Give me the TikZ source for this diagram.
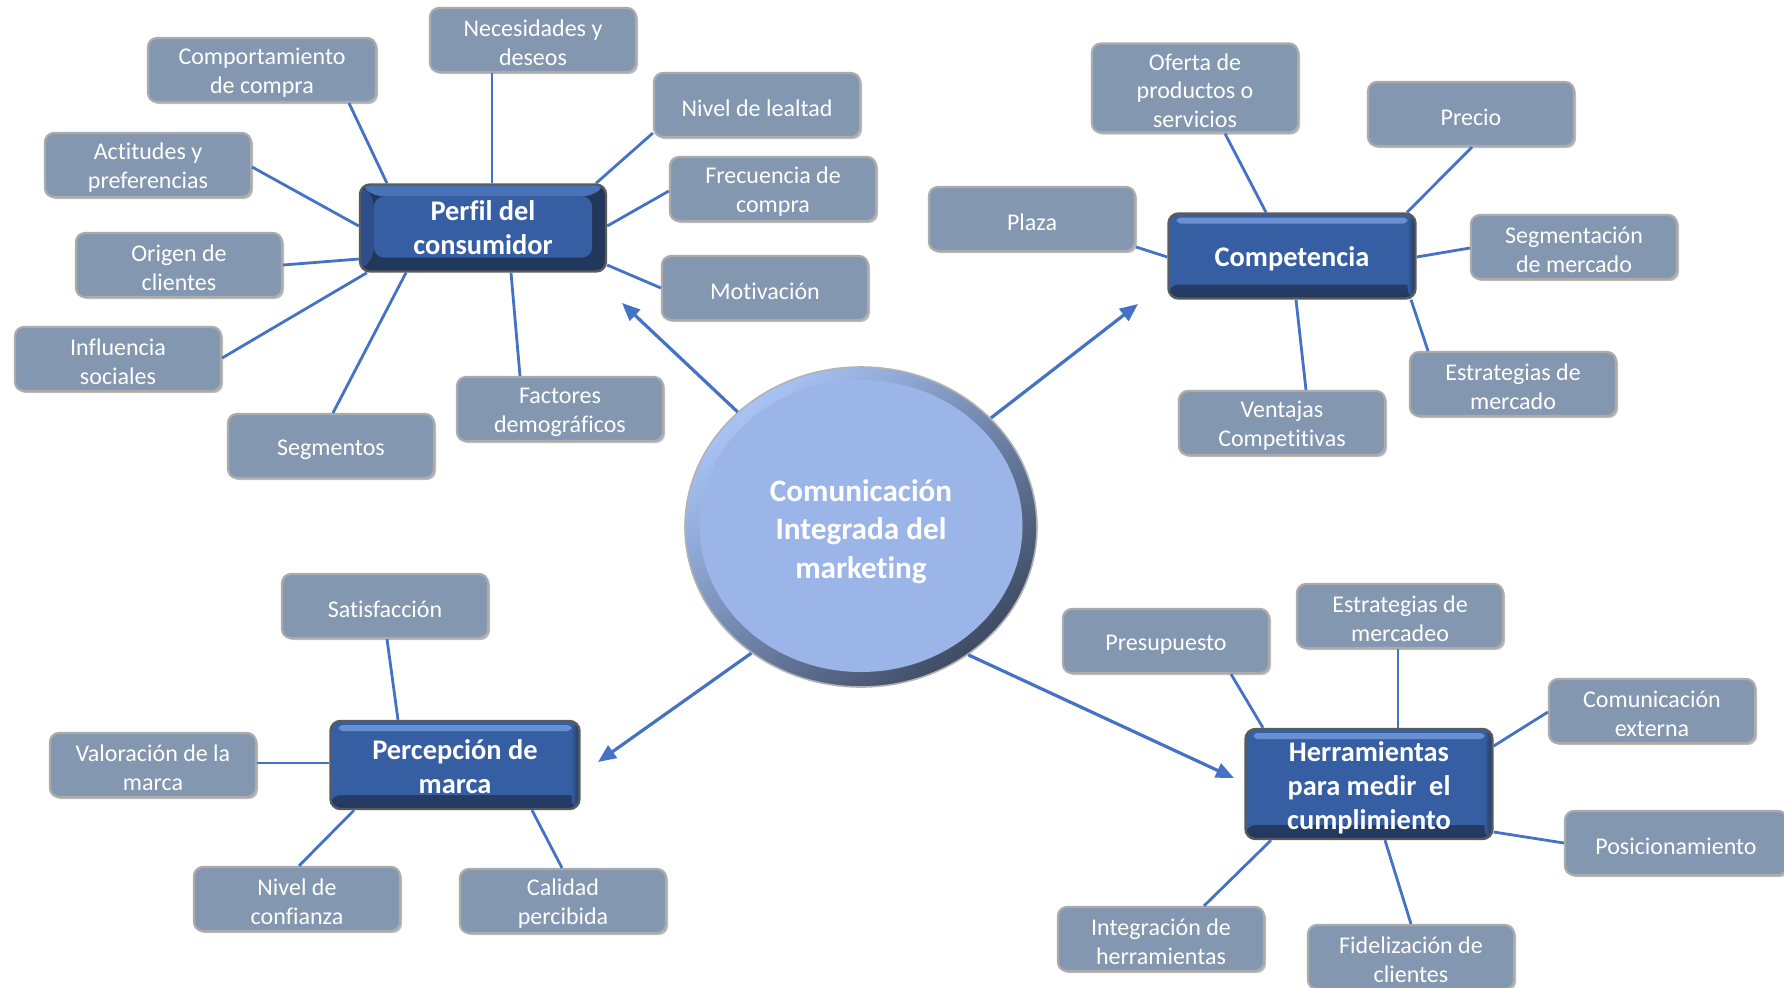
\documentclass[tikz,border=0pt]{standalone}
\usepackage{fontspec}
\setmainfont{Carlito}[Ligatures=NoCommon]
\usetikzlibrary{arrows.meta,calc,shapes.geometric,shadows}
\newcommand{\lfs}{\rule{0pt}{11pt}}
\definecolor{leafgray}{HTML}{8497B0}
\definecolor{leafedge}{HTML}{ABABAB}
\definecolor{linkblue}{HTML}{4472C4}
\definecolor{hubface}{HTML}{365EA2}
\definecolor{hubdark}{HTML}{22375C}
\definecolor{hubtop}{HTML}{4A72B8}
\definecolor{hubleft}{HTML}{2D4E88}
\definecolor{hubedge}{HTML}{5A5A5A}
\definecolor{hubshine}{HTML}{6A90D4}
\definecolor{circfill}{HTML}{9BB5E9}
\definecolor{ringlight}{HTML}{A8C4F6}
\definecolor{ringdark}{HTML}{3E4B64}
\tikzset{
  leaf/.style={draw=leafedge, line width=1.1pt, fill=leafgray, rounded corners=4.5pt,
    minimum width=103pt, minimum height=32pt, inner sep=1pt, text=white, align=center,
    font=\fontsize{12}{14.2}\selectfont,
    execute at begin node={\rule{0pt}{11.8pt}},
    drop shadow={shadow xshift=1pt, shadow yshift=-1pt, opacity=0.25, fill=black}},
  hubbase/.style={draw=hubedge, line width=1.2pt, rounded corners=5pt,
    inner sep=1pt, text=white, align=center,
    font=\bfseries\fontsize{14.2}{17}\selectfont,
    execute at begin node={\rule{0pt}{13pt}}},
  hubbevel/.style={hubbase, fill=hubdark,
    path picture={
      \fill[hubleft] (path picture bounding box.north west) -- ([xshift=7pt,yshift=-6pt]path picture bounding box.north west)
        -- ([xshift=7pt,yshift=7pt]path picture bounding box.south west) -- (path picture bounding box.south west) -- cycle;
      \fill[hubtop] (path picture bounding box.north west) -- (path picture bounding box.north east)
        -- ([xshift=-7pt,yshift=-6pt]path picture bounding box.north east) -- ([xshift=7pt,yshift=-6pt]path picture bounding box.north west) -- cycle;
      \fill[hubface] ([xshift=7pt,yshift=-6pt]path picture bounding box.north west) rectangle ([xshift=-7pt,yshift=7pt]path picture bounding box.south east);
    }},
  hubgloss/.style={hubbase, fill=hubface,
    path picture={
      \shade[top color=hubface, bottom color=hubdark]
        ([yshift=7pt]path picture bounding box.south west) rectangle (path picture bounding box.south east);
      \shade[left color=hubface, right color=hubdark]
        ([xshift=-4pt]path picture bounding box.north east) rectangle (path picture bounding box.south east);
      \fill[hubshine, rounded corners=2pt]
        ([xshift=4pt,yshift=-2pt]path picture bounding box.north west) rectangle ([xshift=-4pt,yshift=-5pt]path picture bounding box.north east);
    }},
  link/.style={draw=linkblue, line width=1.4pt},
  bigarrow/.style={draw=linkblue, line width=1.6pt, -{Triangle[length=9pt,width=7.5pt]}},
}
\begin{document}
\begin{tikzpicture}[x=0.5pt,y=-0.5pt]
\useasboundingbox[fill=white] (0,0) rectangle (1784,987);

% central circle
\node[ellipse, minimum width=176pt, minimum height=160pt, draw=gray!60, line width=0.8pt,
  top color=ringlight, bottom color=ringdark, shading angle=40,
  text=white, align=center, font=\bfseries\fontsize{15.6}{19.4}\selectfont,
  path picture={\fill[circfill] ([yshift=0.5pt]path picture bounding box.center) ellipse [x radius=80.75pt, y radius=73pt];}]
  (circ) at (861,527) {\rule{0pt}{15.5pt}Comunicación\\Integrada del\\marketing};

% hubs
\node[hubbevel, minimum width=123pt, minimum height=43.5pt] (perfil) at (483,228) {Perfil del\\consumidor};
\node[hubgloss, minimum width=123.5pt, minimum height=42.5pt] (compe) at (1292,256) {Competencia};
\node[hubgloss, minimum width=124.5pt, minimum height=44pt] (perc) at (455,765) {\rule{0pt}{12pt}Percepción de\\marca};
\node[hubgloss, minimum width=123.5pt, minimum height=55pt] (herr) at (1369,784) {\rule{0pt}{13.5pt}Herramientas\\para medir\ \ el\\cumplimiento};

% leaves: Perfil
\node[leaf] (nec) at (533,40) {\lfs Necesidades y\\deseos};
\node[leaf, minimum width=114pt] (comport) at (262,70) {\lfs Comportamiento\\de compra};
\node[leaf] (leal) at (757,105) {Nivel de lealtad};
\node[leaf] (act) at (148,165) {\lfs Actitudes y\\preferencias};
\node[leaf] (frec) at (773,189) {\lfs Frecuencia de\\compra};
\node[leaf] (ori) at (179,265) {\lfs Origen de\\clientes};
\node[leaf] (mot) at (765,288) {Motivación};
\node[leaf] (inf) at (118,359) {\lfs Influencia\\sociales};
\node[leaf] (fac) at (560,409) {\lfs Factores\\demográficos};
\node[leaf] (seg) at (331,446) {Segmentos};
% leaves: Competencia
\node[leaf, minimum height=44.5pt] (ofe) at (1195,88) {\lfs Oferta de\\productos o\\servicios};
\node[leaf] (pre) at (1471,114) {Precio};
\node[leaf] (pla) at (1032,219) {Plaza};
\node[leaf] (segm) at (1574,247) {\lfs Segmentación\\de mercado};
\node[leaf] (estm) at (1513,384) {\lfs Estrategias de\\mercado};
\node[leaf] (ven) at (1282,423) {\lfs Ventajas\\Competitivas};
% leaves: Percepcion
\node[leaf] (sat) at (385,606) {Satisfacción};
\node[leaf] (val) at (153,765) {\lfs Valoración de la\\marca};
\node[leaf] (conf) at (297,899) {\lfs Nivel de\\confianza};
\node[leaf] (cal) at (563,901) {\lfs Calidad\\percibida};
% leaves: Herramientas
\node[leaf] (pres) at (1166,641) {Presupuesto};
\node[leaf] (estd) at (1400,616) {\lfs Estrategias de\\mercadeo};
\node[leaf] (com) at (1652,711) {\lfs Comunicación\\externa};
\node[leaf, minimum width=111pt] (pos) at (1676,843) {Posicionamiento};
\node[leaf] (int) at (1161,939) {\lfs Integración de\\herramientas};
\node[leaf] (fid) at (1411,957) {\lfs Fidelización de\\clientes};

% connectors Perfil
\draw[link] ($(perfil.north)+(9,0)$) -- ($(nec.south)+(-41,0)$);
\draw[link] ($(perfil.north)+(-96,0)$) -- ($(comport.south)+(87,0)$);
\draw[link] ($(perfil.north)+(113,0)$) -- ($(leal.west)+(0,28)$);
\draw[link] ($(perfil.west)+(0,-2)$) -- ($(act.east)+(0,2)$);
\draw[link] ($(perfil.east)+(0,-2)$) -- ($(frec.west)+(0,2)$);
\draw[link] ($(perfil.west)+(0,31)$) -- (ori.east);
\draw[link] ($(perfil.east)+(0,37)$) -- (mot.west);
\draw[link] ($(perfil.south)+(-116,0)$) -- ($(inf.east)+(0,-1)$);
\draw[link] ($(perfil.south)+(-77,0)$) -- ($(seg.north)+(2,0)$);
\draw[link] ($(perfil.south)+(28,0)$) -- ($(fac.north)+(-40,0)$);
% connectors Competencia
\draw[link] ($(compe.north)+(-26,0)$) -- ($(ofe.south)+(30,0)$);
\draw[link] ($(compe.north)+(115,0)$) -- ($(pre.south)+(1,0)$);
\draw[link] ($(compe.west)+(0,1)$) -- ($(pla.east)+(0,28)$);
\draw[link] ($(compe.east)+(0,1)$) -- ($(segm.west)+(0,1)$);
\draw[link] ($(compe.south)+(119,0)$) -- ($(estm.north)+(-85,0)$);
\draw[link] ($(compe.south)+(4,0)$) -- ($(ven.north)+(24,0)$);
% connectors Percepcion
\draw[link] ($(perc.north)+(-57,0)$) -- ($(sat.south)+(2,0)$);
\draw[link] ($(perc.west)+(0,-2)$) -- ($(val.east)+(0,-2)$);
\draw[link] ($(perc.south)+(-101,0)$) -- ($(conf.north)+(2,0)$);
\draw[link] ($(perc.south)+(77,0)$) -- ($(cal.north)+(-1,0)$);
% connectors Herramientas
\draw[link] ($(herr.north)+(-106,0)$) -- ($(pres.south)+(65,0)$);
\draw[link] ($(herr.north)+(29,0)$) -- ($(estd.south)+(-2,0)$);
\draw[link] ($(herr.east)+(0,-38)$) -- ($(com.west)+(0,1)$);
\draw[link] ($(herr.east)+(0,48)$) -- (pos.west);
\draw[link] ($(herr.south)+(-98,0)$) -- ($(int.north)+(43,0)$);
\draw[link] ($(herr.south)+(16,0)$) -- (fid.north);

% arrows from centre
\coordinate (tipP) at (622,303);
\coordinate (tipC) at (1138,304);
\coordinate (tipR) at (598,762);
\coordinate (tipH) at (1234,778);
\draw[bigarrow] (circ.137.6) -- (tipP);
\draw[bigarrow] (circ.40.9) -- (tipC);
\draw[bigarrow] (circ.229.1) -- (tipR);
\draw[bigarrow] (circ.310.8) -- (tipH);
\end{tikzpicture}
\end{document}
